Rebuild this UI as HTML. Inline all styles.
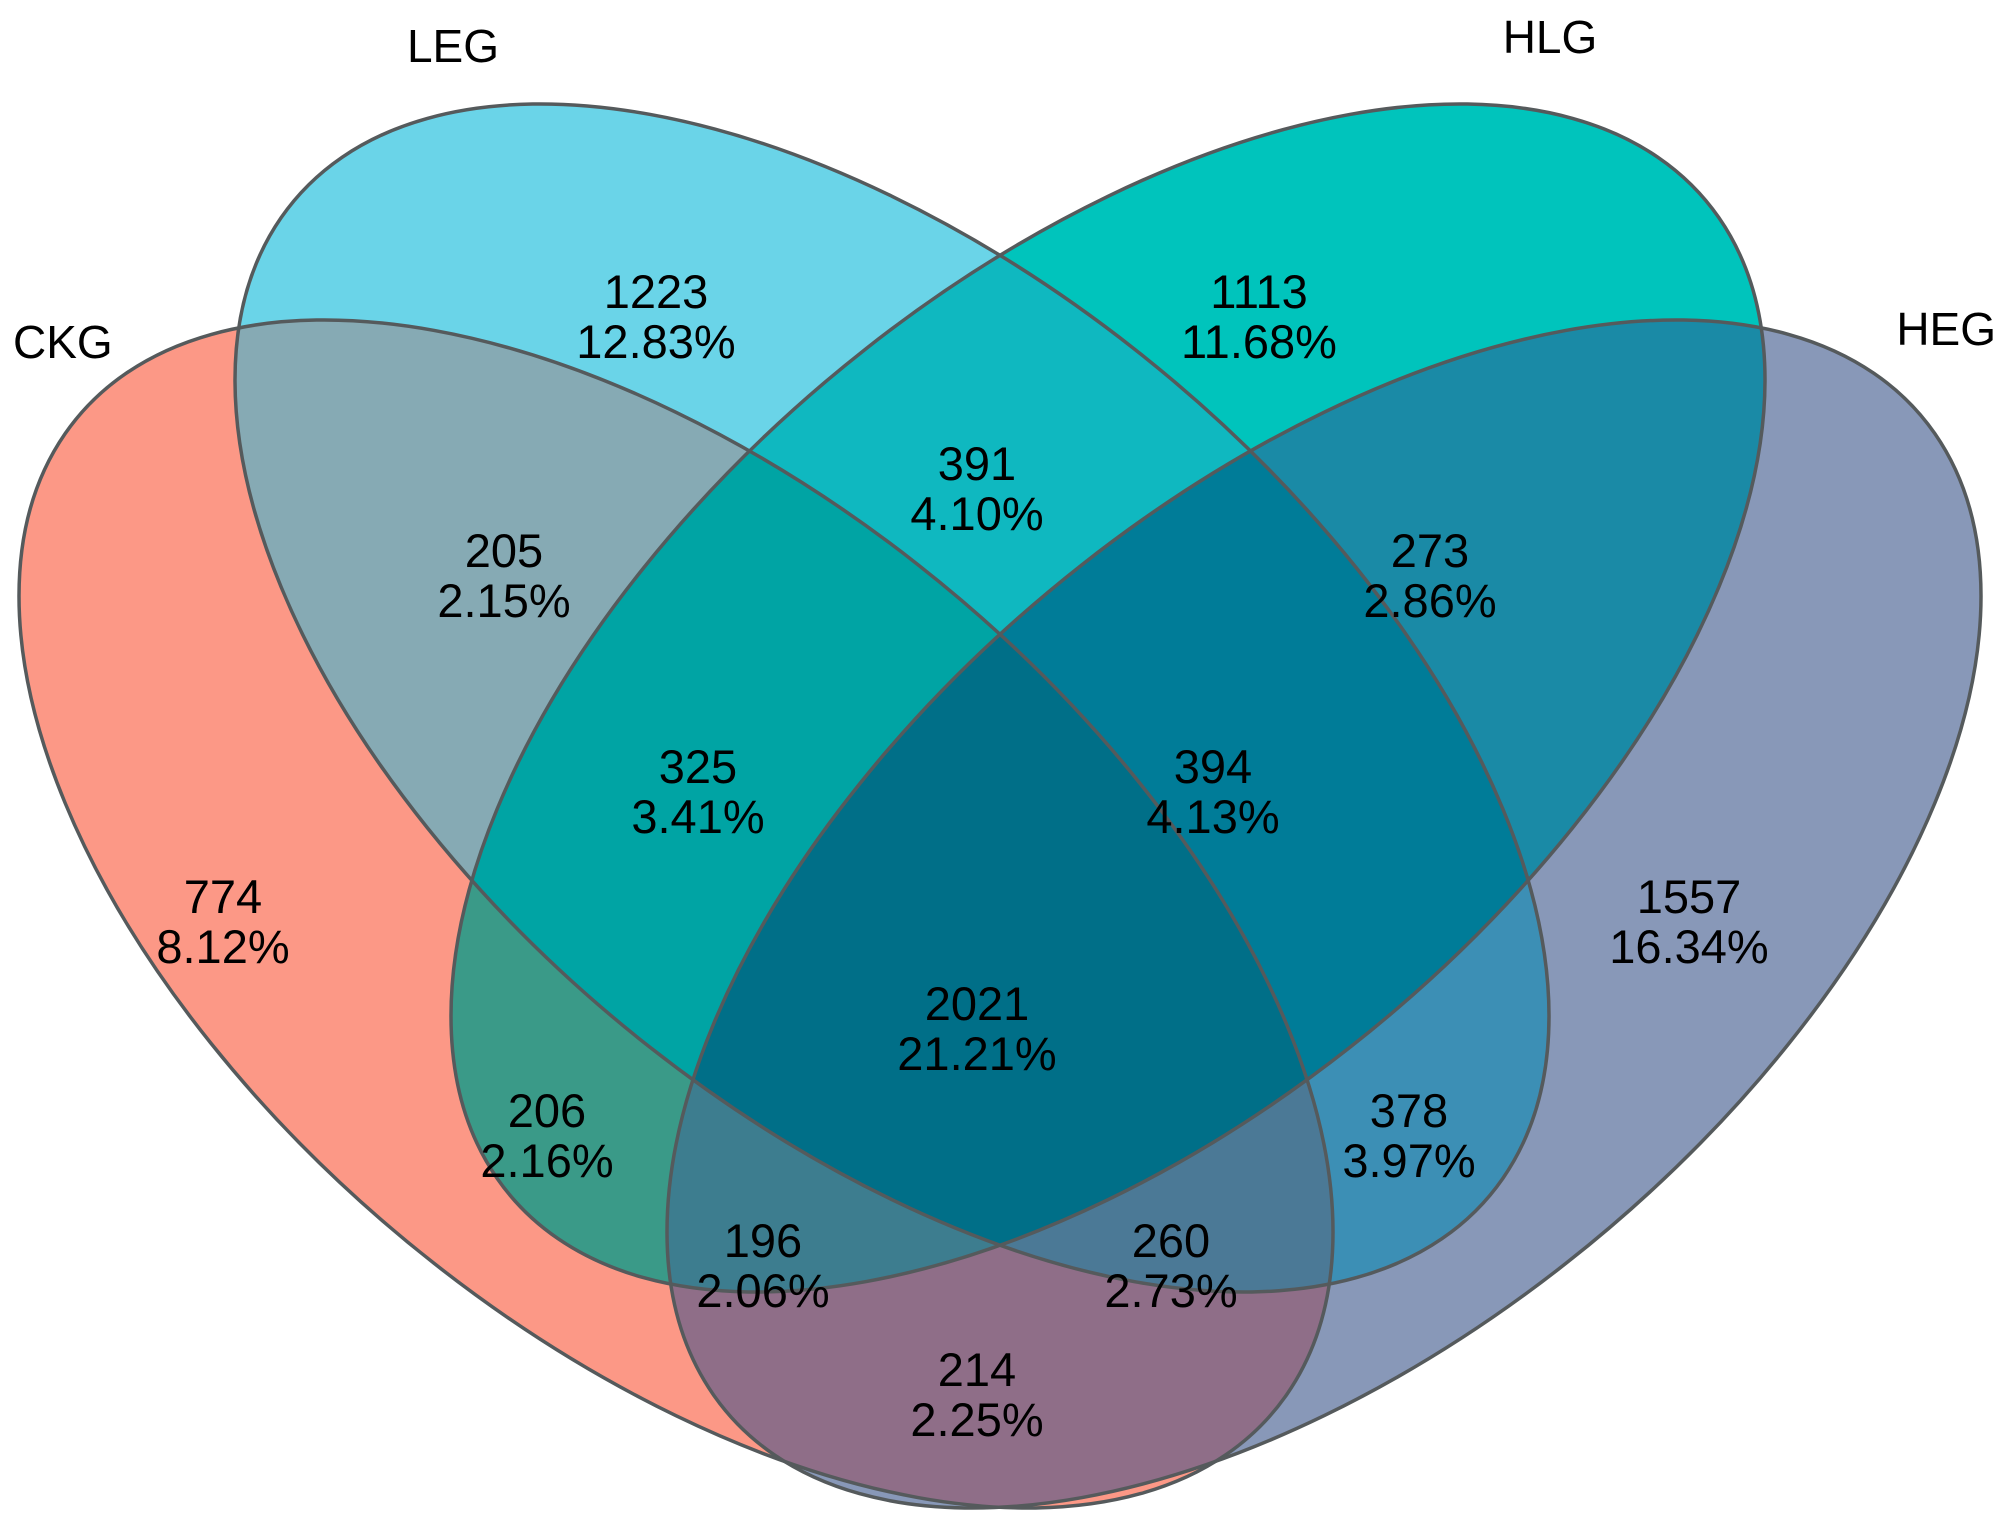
<!DOCTYPE html>
<html>
<head>
<meta charset="utf-8">
<style>
  html,body{margin:0;padding:0;background:#fff;overflow:hidden;width:2000px;height:1528px;}
  svg{display:block;}
  text{font-family:"Liberation Sans",sans-serif;fill:#000;}
</style>
</head>
<body>
<svg id="venn" width="2000" height="1528" viewBox="0 0 2000 1528" xmlns="http://www.w3.org/2000/svg">
  <defs id="defs"></defs>
  <g id="fills"></g>
  <g id="outlines"></g>
  <g id="labels"></g>
  <g id="setnames"></g>
</svg>
<script>
// ---- data ----
const setNames = ["CKG", "LEG", "HLG", "HEG"];
const regionKeys = ["1000","0100","0010","0001","1100","0110","0011","1001","1010","0101","1110","0111","1101","1011","1111"];
const regionCounts = [774, 1223, 1113, 1557, 205, 391, 273, 214, 206, 378, 325, 394, 260, 196, 2021];
const regionPercents = ["8.12%","12.83%","11.68%","16.34%","2.15%","4.10%","2.86%","2.25%","2.16%","3.97%","3.41%","4.13%","2.73%","2.06%","21.21%"];

// ---- layout (not data) ----
const NS = "http://www.w3.org/2000/svg";
const W = 657, H = 594, KW = 318;           // half-width, half-height, y-offset of x-extreme
const L22 = Math.sqrt(H*H - KW*KW);
const setGeom = [
  {cx:676, cy:914, dir:1},
  {cx:892, cy:698, dir:1},
  {cx:1108, cy:698, dir:-1},
  {cx:1324, cy:914, dir:-1}
];
const regionColors = {
  "1000":"#fc9886","0100":"#6ad4e8","0010":"#00c4bc","0001":"#8898b8",
  "1100":"#86aab4","0110":"#0fb8c0","0011":"#1a8aa6","1001":"#8f6e88",
  "1010":"#3a9a88","0101":"#3c8fb5","1110":"#00a4a4","0111":"#007c98",
  "1101":"#4b7996","1011":"#3d7d8f","1111":"#006f88"
};
const labelPos = {
  "1000":[223,897],"0100":[656,292],"0010":[1259,292],"0001":[1689,897],
  "1100":[504,551],"0110":[977,464],"0011":[1430,551],"1001":[977,1370],
  "1010":[547,1111],"0101":[1409,1111],"1110":[698,767],"0111":[1213,767],
  "1101":[1171,1241],"1011":[763,1241],"1111":[977,1004]
};
const setLabelPos = [[13,358,"start"],[453,62,"middle"],[1550,53,"middle"],[1996,345,"end"]];

function ellipseTransform(i){
  const g = setGeom[i];
  return `matrix(${g.dir*W},${KW},0,${L22},${g.cx},${g.cy})`;
}
const defs = document.getElementById('defs');
const fills = document.getElementById('fills');
const outlines = document.getElementById('outlines');
const labels = document.getElementById('labels');
const setnames = document.getElementById('setnames');

for (let i = 0; i < 4; i++) {
  const cp = document.createElementNS(NS, 'clipPath');
  cp.setAttribute('id', 'clip' + i);
  const e = document.createElementNS(NS, 'circle');
  e.setAttribute('cx', 0); e.setAttribute('cy', 0); e.setAttribute('r', 1);
  e.setAttribute('transform', ellipseTransform(i));
  cp.appendChild(e);
  defs.appendChild(cp);
}

const ordered = regionKeys.slice().sort((a,b)=>a.split('1').length-b.split('1').length);
ordered.forEach(key => {
  const members = [];
  for (let i = 0; i < 4; i++) if (key[i] === '1') members.push(i);
  let parent = fills;
  for (let k = 1; k < members.length; k++) {
    const g = document.createElementNS(NS, 'g');
    g.setAttribute('clip-path', `url(#clip${members[k]})`);
    parent.appendChild(g);
    parent = g;
  }
  const e = document.createElementNS(NS, 'circle');
  
  
  e.setAttribute('cx', 0); e.setAttribute('cy', 0); e.setAttribute('r', 1);
  e.setAttribute('transform', ellipseTransform(members[0]));
  e.setAttribute('fill', regionColors[key]);
  parent.appendChild(e);
});

for (let i = 0; i < 4; i++) {
  const e = document.createElementNS(NS, 'circle');
  
  
  e.setAttribute('cx', 0); e.setAttribute('cy', 0); e.setAttribute('r', 1);
  e.setAttribute('transform', ellipseTransform(i));
  e.setAttribute('fill', 'none');
  e.setAttribute('stroke', '#555a5c');
  e.setAttribute('stroke-width', '3.5');
  e.setAttribute('vector-effect', 'non-scaling-stroke');
  outlines.appendChild(e);
}

regionKeys.forEach((key, idx) => {
  const [x, y] = labelPos[key];
  const t1 = document.createElementNS(NS, 'text');
  
  
  t1.setAttribute('x', x); t1.setAttribute('y', y + 16);
  t1.setAttribute('text-anchor', 'middle');
  t1.setAttribute('font-size', '47');
  t1.textContent = regionCounts[idx];
  labels.appendChild(t1);
  const t2 = document.createElementNS(NS, 'text');
  
  
  t2.setAttribute('x', x); t2.setAttribute('y', y + 66);
  t2.setAttribute('text-anchor', 'middle');
  t2.setAttribute('font-size', '47');
  t2.textContent = regionPercents[idx];
  labels.appendChild(t2);
});

setNames.forEach((n, i) => {
  const [x, y, anc] = setLabelPos[i];
  const t = document.createElementNS(NS, 'text');
  
  
  t.setAttribute('x', x); t.setAttribute('y', y);
  t.setAttribute('text-anchor', anc);
  t.setAttribute('font-size', '46');
  t.textContent = n;
  setnames.appendChild(t);
});
</script>
</body>
</html>
